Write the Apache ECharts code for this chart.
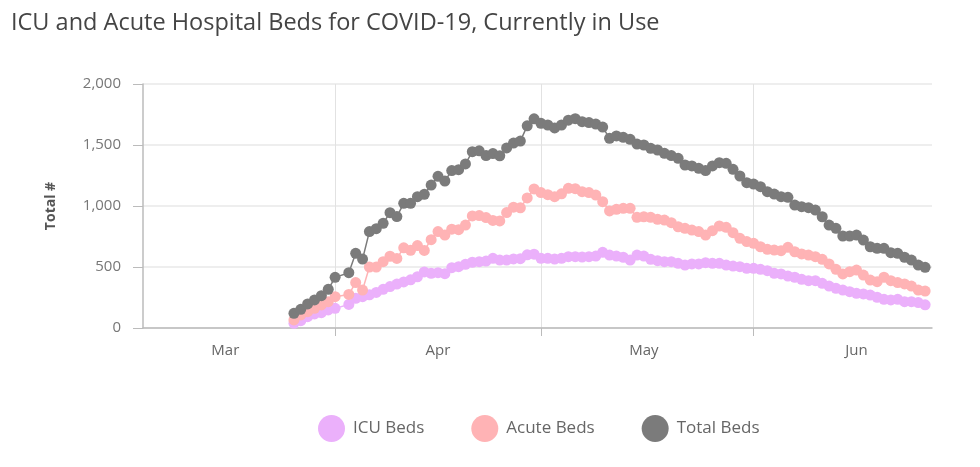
<!DOCTYPE html>
<html>
<head>
<meta charset="utf-8">
<script src="https://cdn.jsdelivr.net/npm/echarts@6/dist/echarts.min.js"></script>
<style>
html,body{margin:0;padding:0;background:#fff;}
#chart{width:980px;height:467px;}
</style>
</head>
<body>
<div id="chart"></div>
<script>
// Axis spans Mar 4 .. Jun 27, 2020 (daily categories); data starts Mar 26
const axisStart = '2020-03-04';
const axisDays = 116;
const dataStartOffset = 22; // Mar 26
const monthNames = ['Jan','Feb','Mar','Apr','May','Jun','Jul','Aug','Sep','Oct','Nov','Dec'];
const seriesNames = ['ICU Beds','Acute Beds','Total Beds'];

// Daily values from Mar 26 to Jun 26 (null = no report that day)
const icuBeds = [38,60,93,115,126,148,161,null,193,243,257,272,292,317,340,360,378,395,420,460,448,453,445,494,503,522,539,544,549,571,557,557,566,568,600,605,571,571,565,571,585,585,582,585,590,620,598,590,580,557,598,590,563,552,544,544,530,516,525,525,535,530,530,516,508,503,489,489,481,470,448,443,426,416,399,388,388,366,344,325,311,298,284,279,270,252,235,230,235,216,216,208,190];
const acuteBeds = [66,107,134,161,189,216,257,null,275,372,311,500,500,544,588,570,657,637,676,636,724,790,762,810,806,844,919,922,905,882,878,946,990,985,1066,1140,1110,1093,1076,1100,1145,1142,1117,1110,1090,1035,960,973,981,981,907,912,907,891,885,863,830,817,803,790,762,798,836,825,781,735,708,694,666,645,639,634,661,625,607,598,585,563,525,481,443,462,475,434,393,380,416,388,372,361,344,311,303];
const totalBeds = [120,153,197,230,265,317,415,null,453,612,565,790,814,858,945,913,1022,1022,1076,1096,1172,1243,1205,1290,1298,1345,1445,1452,1414,1430,1412,1476,1516,1532,1657,1715,1678,1664,1640,1664,1703,1716,1691,1684,1672,1647,1555,1574,1563,1547,1508,1500,1473,1459,1432,1413,1391,1336,1328,1309,1290,1328,1355,1350,1301,1246,1191,1180,1158,1117,1098,1076,1071,1008,994,986,967,912,844,817,754,754,762,721,666,653,653,617,612,580,557,516,497];

const colors = ['#ebb0fb','#ffb3b5','#7b7b7b'];

// build category dates
const cats = [];
const d0 = new Date(axisStart + 'T00:00:00Z');
for (let i = 0; i < axisDays; i++) {
  const d = new Date(d0.getTime() + i * 86400000);
  cats.push(d.toISOString().slice(0,10));
}
function pad(arr){
  const out = new Array(dataStartOffset).fill(null).concat(arr);
  while (out.length < axisDays) out.push(null);
  return out;
}
const dayOf = (s) => parseInt(s.slice(8,10),10);
const monOf = (s) => parseInt(s.slice(5,7),10) - 1;

const chart = echarts.init(document.getElementById('chart'));
const font = '"Open Sans", Lato, sans-serif';

chart.setOption({
  backgroundColor: '#fff',
  animation: false,
  textStyle: { fontFamily: font },
  title: {
    text: 'ICU and Acute Hospital Beds for COVID-19, Currently in Use',
    left: 6, top: 6,
    textStyle: { fontFamily: font, fontSize: 23.5, fontWeight: 'normal', color: '#444' }
  },
  legend: {
    data: seriesNames,
    left: 313, top: 410,
    icon: 'circle',
    itemWidth: 27, itemHeight: 27,
    itemGap: 47,
    textStyle: { fontFamily: font, fontSize: 17, color: '#666', padding: [0,0,0,3] }
  },
  grid: { left: 143, right: 48, top: 84, bottom: 139 },
  xAxis: {
    type: 'category',
    data: cats,
    boundaryGap: false,
    axisLine: { lineStyle: { color: '#bbb', width: 1.5 } },
    axisTick: {
      show: true, length: 8,
      interval: (i, v) => dayOf(v) === 1,
      lineStyle: { color: '#bbb' }
    },
    axisLabel: {
      interval: (i, v) => dayOf(v) === 16,
      formatter: (v) => monthNames[monOf(v)],
      fontFamily: font, fontSize: 15, color: '#666', margin: 15
    },
    splitLine: {
      show: true,
      interval: (i, v) => dayOf(v) === 1,
      lineStyle: { color: '#e2e2e2', width: 1 }
    }
  },
  yAxis: {
    type: 'value',
    min: 0, max: 2000, interval: 500,
    name: 'Total #',
    nameLocation: 'middle',
    nameRotate: 90,
    nameGap: 85,
    nameTextStyle: { fontFamily: font, fontSize: 14, fontWeight: 'bold', color: '#555' },
    axisLine: { show: true, lineStyle: { color: '#bbb', width: 1.5 } },
    axisTick: { show: true, length: 10, lineStyle: { color: '#bbb' } },
    axisLabel: {
      formatter: (v) => v.toLocaleString('en-US'),
      fontFamily: font, fontSize: 15, color: '#777', margin: 22
    },
    splitLine: { lineStyle: { color: '#e8e8e8', width: 1.5 } }
  },
  series: [
    { name: seriesNames[0], data: pad(icuBeds) },
    { name: seriesNames[1], data: pad(acuteBeds) },
    { name: seriesNames[2], data: pad(totalBeds) }
  ].map((s, k) => Object.assign(s, {
    type: 'line',
    connectNulls: true,
    symbol: 'circle',
    symbolSize: 11,
    showSymbol: true,
    showAllSymbol: true,
    color: colors[k],
    itemStyle: { color: colors[k] },
    lineStyle: { color: colors[k], width: 1.5 }
  }))
});
</script>
</body>
</html>
